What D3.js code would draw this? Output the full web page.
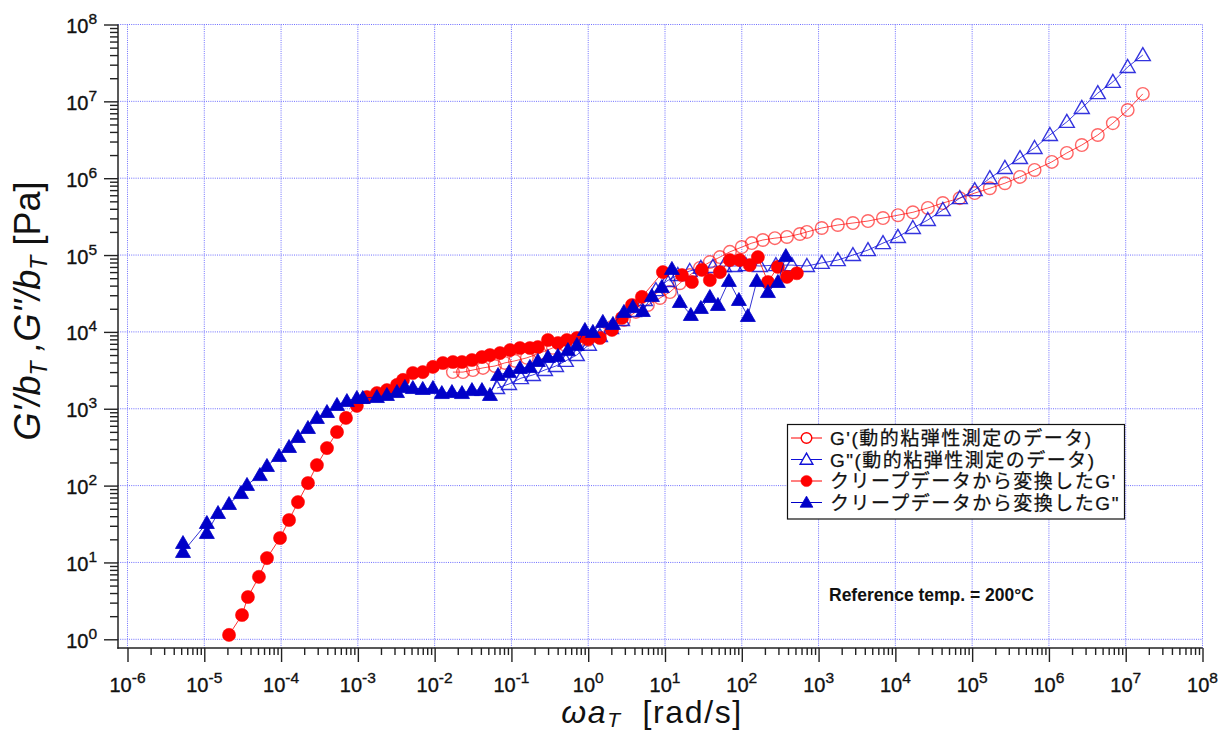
<!DOCTYPE html>
<html><head><meta charset="utf-8">
<script src="https://cdn.jsdelivr.net/npm/d3@7"></script>
<style>
html,body{margin:0;padding:0;background:#fff;}
svg{display:block;font-family:"Liberation Sans",Arial,"Noto Sans CJK JP",sans-serif;}
</style></head><body>
<svg id="chart" width="1226" height="733"></svg>
<script>
// ---------- data ----------
const xTickExps = [-6,-5,-4,-3,-2,-1,0,1,2,3,4,5,6,7,8];
const yTickExps = [0,1,2,3,4,5,6,7,8];
const legendLabels = ["G'(動的粘弾性測定のデータ)", "G\"(動的粘弾性測定のデータ)", "クリープデータから変換したG'", "クリープデータから変換したG\""];
const annotationText = "Reference temp. = 200°C";

// G' from dynamic viscoelastic measurement (open circles)
const dynGpX = [1.73e-2,2.34e-2,3.15e-2,4.26e-2,6.1e-2,8.2e-2,0.111,0.159,0.235,0.347,0.497,0.71,1.0,1.42,2.04,2.92,4.18,5.98,8.6,11.6,15.6,21,28.5,38.4,51.9,70,100,135,188,270,387,571,705,1.1e3,1.78e3,2.8e3,4.4e3,6.9e3,1.08e4,1.69e4,2.65e4,4.15e4,6.9e4,1.08e5,1.7e5,2.67e5,4.2e5,6.5e5,1.09e6,1.71e6,2.68e6,4.33e6,6.8e6,1.06e7,1.67e7];
const dynGpY = [3.0e3,3.0e3,3.19e3,3.4e3,3.6e3,3.95e3,4.2e3,4.6e3,5.3e3,6.2e3,6.8e3,7.4e3,7.9e3,9.7e3,1.16e4,1.43e4,1.82e4,2.24e4,2.76e4,3.3e4,4.3e4,5.5e4,6.8e4,8.1e4,9.4e4,1.1e5,1.27e5,1.43e5,1.57e5,1.66e5,1.72e5,1.88e5,2.0e5,2.25e5,2.46e5,2.61e5,2.77e5,3.03e5,3.3e5,3.6e5,4.1e5,4.75e5,5.5e5,6.4e5,7.4e5,8.6e5,1.04e6,1.28e6,1.63e6,2.13e6,2.7e6,3.65e6,5.2e6,7.7e6,1.25e7];

// G'' from dynamic viscoelastic measurement (open triangles)
const dynGppX = [6.5e-2,9.3e-2,0.133,0.19,0.273,0.38,0.51,0.71,1.02,1.42,1.98,2.75,3.94,5.47,7.6,10.6,14.7,21,29.3,42,58.5,81,113,172,278,449,705,1.1e3,1.78e3,2.8e3,4.4e3,6.9e3,1.08e4,1.69e4,2.65e4,4.15e4,6.9e4,1.08e5,1.7e5,2.67e5,4.2e5,6.5e5,1.03e6,1.71e6,2.68e6,4.33e6,6.8e6,1.06e7,1.67e7];
const dynGppY = [1.86e3,2.1e3,2.5e3,2.75e3,3.2e3,3.6e3,4.2e3,5.0e3,6.8e3,8.8e3,1.12e4,1.43e4,1.87e4,2.6e4,3.5e4,4.6e4,5.5e4,6.2e4,6.8e4,7.0e4,7.2e4,7.2e4,7.4e4,7.2e4,7.4e4,7.4e4,7.2e4,7.9e4,8.6e4,1.0e5,1.16e5,1.43e5,1.72e5,2.25e5,2.86e5,3.86e5,5.5e5,7.0e5,1.0e6,1.36e6,1.83e6,2.47e6,3.65e6,5.4e6,8.2e6,1.28e7,1.79e7,2.8e7,4.0e7];

// G' converted from creep data (filled circles)
const creepGpX = [2.1e-5,3.1e-5,3.7e-5,5.15e-5,6.55e-5,9.7e-5,1.27e-4,1.66e-4,2.24e-4,2.93e-4,3.96e-4,5.35e-4,7.0e-4,9.7e-4,1.31e-3,1.77e-3,2.39e-3,3.23e-3,3.87e-3,5.2e-3,7.0e-3,9.5e-3,1.28e-2,1.73e-2,2.27e-2,3.06e-2,4.13e-2,5.25e-2,7.1e-2,9.6e-2,0.129,0.174,0.221,0.299,0.403,0.528,0.713,1.0,1.42,2.04,2.75,3.71,5.0,9.4,16.6,22.4,30.2,38.4,51.9,70,94,127,162,219,295,387,521];
const creepGpY = [1.14,2.07,3.55,6.5,11.4,20.8,35.7,61,108,185,308,498,759,1.09e3,1.42e3,1.6e3,1.75e3,2.04e3,2.37e3,2.92e3,3.0e3,3.5e3,3.94e3,4.06e3,4.06e3,4.31e3,4.71e3,5.0e3,5.3e3,5.8e3,6.17e3,6.17e3,6.36e3,7.85e3,7.17e3,7.85e3,8.33e3,8.09e3,8.33e3,1.06e4,1.52e4,2.24e4,2.85e4,6.0e4,5.5e4,4.46e4,6.4e4,4.73e4,6.0e4,8.6e4,8.6e4,7.4e4,9.4e4,4.46e4,7.0e4,5.2e4,5.8e4];

// G'' converted from creep data (filled triangles)
const creepGppX = [5.28e-6,5.28e-6,1.08e-5,1.08e-5,1.51e-5,2.1e-5,3.0e-5,3.6e-5,5.3e-5,6.55e-5,9.4e-5,1.27e-4,1.66e-4,2.24e-4,2.93e-4,3.96e-4,5.35e-4,7.2e-4,9.7e-4,1.16e-3,1.77e-3,2.39e-3,3.23e-3,4.1e-3,5.2e-3,7.0e-3,9.5e-3,1.24e-2,1.68e-2,2.27e-2,3.06e-2,4.13e-2,5.25e-2,6.7e-2,9.3e-2,0.129,0.174,0.221,0.299,0.403,0.544,0.713,0.906,1.15,1.55,2.1,2.92,3.82,5.15,6.75,9.1,12.3,15.6,21.7,29.3,38.4,48.9,67.9,91.7,120,157,219,295,375];
const creepGppY = [17.9,13.7,32.6,24.2,44,57.6,80,102,137,180,243,318,429,562,759,907,1.12e3,1.26e3,1.38e3,1.38e3,1.42e3,1.51e3,1.65e3,1.92e3,1.86e3,1.81e3,1.86e3,1.6e3,1.65e3,1.6e3,1.75e3,1.75e3,1.51e3,2.75e3,3.0e3,3.39e3,3.5e3,4.18e3,4.71e3,4.86e3,5.8e3,6.76e3,1.06e4,1.0e4,1.35e4,1.27e4,1.82e4,2.11e4,1.87e4,2.93e4,3.84e4,6.6e4,2.45e4,1.66e4,2.05e4,2.85e4,2.24e4,4.6e4,2.6e4,1.61e4,4.6e4,3.3e4,4.46e4,9.7e4];

// ---------- layout ----------
const svg = d3.select("#chart");
const X0 = 127.5, X1 = 1202.5, Y0 = 639.3, Y1 = 24.5;
const axisX = 118, axisY = 648;
const x = d3.scaleLog().domain([1e-6, 1e8]).range([X0, X1]);
const y = d3.scaleLog().domain([1, 1e8]).range([Y0, Y1]);

const xMajor = xTickExps.map(e => Math.pow(10, e));
const yMajor = yTickExps.map(e => Math.pow(10, e));
const xMinor = [], yMinor = [];
xTickExps.slice(0, -1).forEach(e => { for (let m = 2; m <= 9; m++) xMinor.push(m * Math.pow(10, e)); });
yTickExps.slice(0, -1).forEach(e => { for (let m = 2; m <= 9; m++) yMinor.push(m * Math.pow(10, e)); });

const gridColor = "#6e6eff";
const grid = svg.append("g");
grid.selectAll("line.v").data(xMajor).join("line")
  .attr("x1", d => x(d)).attr("x2", d => x(d)).attr("y1", Y1).attr("y2", axisY)
  .attr("stroke", gridColor).attr("stroke-width", 1).attr("stroke-dasharray", "1,1.2");
grid.selectAll("line.h").data(yMajor).join("line")
  .attr("x1", axisX).attr("x2", X1).attr("y1", d => y(d)).attr("y2", d => y(d))
  .attr("stroke", gridColor).attr("stroke-width", 1).attr("stroke-dasharray", "1,1.2");

// axes
const axCol = "#222";
function styleAxis(g) {
  g.select(".domain").remove();
  g.selectAll("line").attr("stroke", axCol).attr("stroke-width", 1.4);
  g.selectAll("text").remove();
}
svg.append("g").attr("transform", `translate(0,${axisY})`)
  .call(d3.axisBottom(x).tickValues(xMajor).tickSize(14).tickFormat("")).call(styleAxis);
svg.append("g").attr("transform", `translate(0,${axisY})`)
  .call(d3.axisBottom(x).tickValues(xMinor).tickSize(7).tickFormat("")).call(styleAxis);
svg.append("g").attr("transform", `translate(${axisX},0)`)
  .call(d3.axisLeft(y).tickValues(yMajor).tickSize(14).tickFormat("")).call(styleAxis);
svg.append("g").attr("transform", `translate(${axisX},0)`)
  .call(d3.axisLeft(y).tickValues(yMinor).tickSize(8).tickFormat("")).call(styleAxis);
svg.append("line").attr("x1", axisX).attr("x2", axisX).attr("y1", Y1).attr("y2", axisY + 0.7)
  .attr("stroke", axCol).attr("stroke-width", 1.5);
svg.append("line").attr("x1", axisX - 0.7).attr("x2", X1).attr("y1", axisY).attr("y2", axisY)
  .attr("stroke", axCol).attr("stroke-width", 1.5);

// tick labels
const lblStroke = 0.35;
const xl = svg.append("g").selectAll("text").data(xTickExps).join("text")
  .attr("x", d => x(Math.pow(10, d))).attr("y", 691.5)
  .attr("text-anchor", "middle").attr("font-size", 20).attr("fill", "#111")
  .attr("stroke", "#111").attr("stroke-width", lblStroke);
xl.append("tspan").text("10");
xl.append("tspan").attr("dy", -9).attr("font-size", 15.5).text(d => d);

const yl = svg.append("g").selectAll("text").data(yTickExps).join("text")
  .attr("x", 97).attr("y", d => y(Math.pow(10, d)) + 8.5)
  .attr("text-anchor", "end").attr("font-size", 20).attr("fill", "#111")
  .attr("stroke", "#111").attr("stroke-width", lblStroke);
yl.append("tspan").text("10");
yl.append("tspan").attr("dy", -9).attr("font-size", 15.5).text(d => d);

// axis titles
const xt = svg.append("text").attr("x", 652).attr("y", 723).attr("text-anchor", "middle")
  .attr("font-size", 32).attr("letter-spacing", "1.6px").attr("fill", "#111");
xt.append("tspan").attr("font-style", "italic").text("ωa");
xt.append("tspan").attr("font-style", "italic").attr("font-size", 21).attr("dy", 4).text("T");
xt.append("tspan").attr("dy", -4).text("\u00a0 [rad/s]");

const yt = svg.append("text").attr("transform", "translate(40,311) rotate(-90)")
  .attr("text-anchor", "middle").attr("font-size", 36).attr("fill", "#111");
yt.append("tspan").attr("font-style", "italic").text("G'/b");
yt.append("tspan").attr("font-style", "italic").attr("font-size", 23).attr("dy", 7).text("T");
yt.append("tspan").attr("dy", -7).attr("font-style", "italic").text(" ,G''/b");
yt.append("tspan").attr("font-style", "italic").attr("font-size", 23).attr("dy", 7).text("T");
yt.append("tspan").attr("dy", -7).text(" [Pa]");

// ---------- series ----------
const RED = "#ff0000", BLUE = "#0000c8";
const triPath = "M0,-7.5L7.5,5.5L-7.5,5.5Z";
const line = d3.line().x(d => x(d[0])).y(d => y(d[1]));
const plot = svg.append("g");

function series(xs, ys, opt) {
  const pts = xs.map((v, i) => [v, ys[i]]);
  const g = plot.append("g");
  g.append("path").datum(pts).attr("d", line).attr("fill", "none")
    .attr("stroke", opt.lineColor).attr("stroke-width", 1).attr("stroke-opacity", opt.lineOpacity || 1);
  if (opt.shape === "circle") {
    g.selectAll("circle").data(pts).join("circle")
      .attr("cx", d => x(d[0])).attr("cy", d => y(d[1])).attr("r", opt.r)
      .attr("fill", opt.fill).attr("stroke", opt.stroke).attr("stroke-width", opt.sw)
      .attr("stroke-opacity", opt.so || 1);
  } else {
    g.selectAll("path.m").data(pts).join("path").attr("class", "m")
      .attr("transform", d => `translate(${x(d[0])},${y(d[1])})`).attr("d", triPath)
      .attr("fill", opt.fill).attr("stroke", opt.stroke).attr("stroke-width", opt.sw)
      .attr("stroke-linejoin", "miter").attr("stroke-opacity", opt.so || 1);
  }
}
const styles = [
  {shape: "circle", r: 6.3, fill: "none", stroke: RED, sw: 1.4, so: 0.6, lineColor: RED, lineOpacity: 0.7},
  {shape: "tri", fill: "none", stroke: "#1010d8", sw: 1.4, so: 0.85, lineColor: "#1010d8", lineOpacity: 0.8},
  {shape: "circle", r: 6.6, fill: RED, stroke: RED, sw: 0.5, lineColor: RED, lineOpacity: 0.8},
  {shape: "tri", fill: BLUE, stroke: BLUE, sw: 0.8, lineColor: BLUE, lineOpacity: 0.8}
];
series(dynGpX, dynGpY, styles[0]);
series(dynGppX, dynGppY, styles[1]);
series(creepGpX, creepGpY, styles[2]);
series(creepGppX, creepGppY, styles[3]);

// ---------- legend ----------
const lg = svg.append("g");
lg.append("rect").attr("x", 787.5).attr("y", 424.5).attr("width", 337).attr("height", 94.5)
  .attr("fill", "#fff").attr("stroke", "#111").attr("stroke-width", 1.2);
const rowY = [438, 459.5, 481, 502.5];
legendLabels.forEach((lab, i) => {
  const st = styles[i], cy = rowY[i];
  lg.append("line").attr("x1", 791).attr("x2", 822).attr("y1", cy).attr("y2", cy)
    .attr("stroke", st.lineColor).attr("stroke-width", 1);
  if (st.shape === "circle") {
    lg.append("circle").attr("cx", 806.5).attr("cy", cy).attr("r", st.r - 1)
      .attr("fill", st.fill === "none" ? "#fff" : st.fill).attr("stroke", st.stroke).attr("stroke-width", st.sw);
  } else {
    lg.append("path").attr("transform", `translate(806.5,${cy}) scale(0.85)`).attr("d", triPath)
      .attr("fill", st.fill === "none" ? "#fff" : st.fill).attr("stroke", st.stroke).attr("stroke-width", st.sw / 0.85);
  }
  lg.append("text").attr("x", 830).attr("y", cy + 7).attr("font-size", 19)
    .attr("letter-spacing", "1.5px").attr("fill", "#111")
    .attr("stroke", "#111").attr("stroke-width", 0.25).text(lab);
});

// annotation
svg.append("text").attr("x", 829).attr("y", 601).attr("font-size", 17.5)
  .attr("font-weight", "bold").attr("fill", "#111").text(annotationText);
</script>
</body></html>
